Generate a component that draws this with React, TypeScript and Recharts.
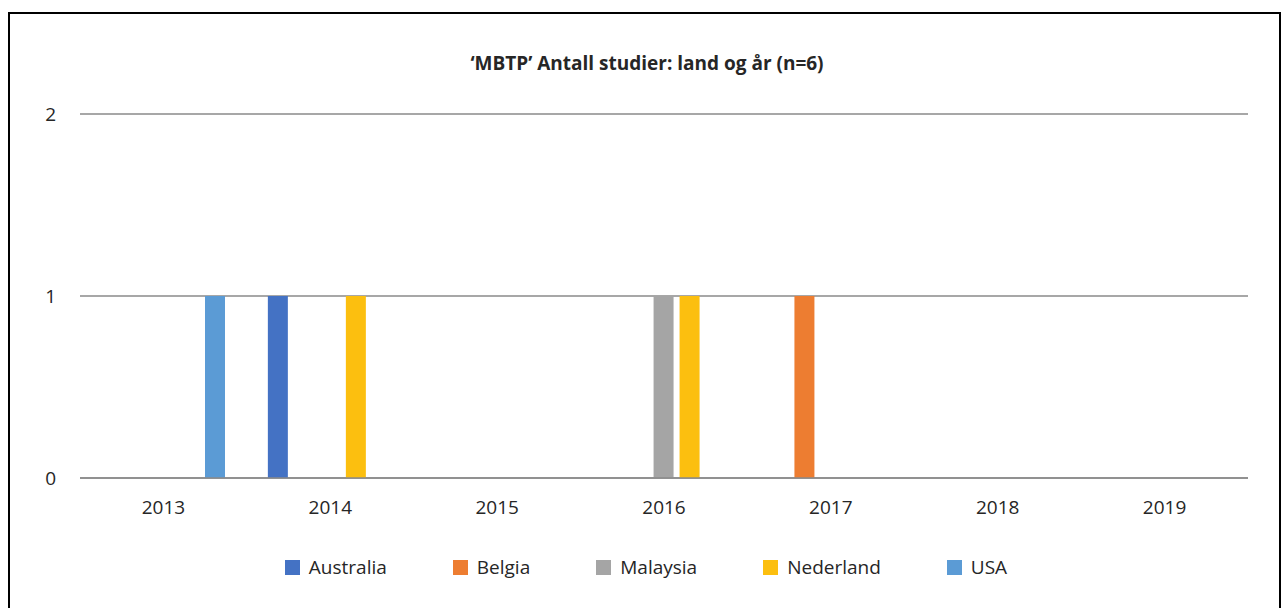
import { BarChart, Bar, XAxis, YAxis, CartesianGrid } from "recharts";

const years = ["2013", "2014", "2015", "2016", "2017", "2018", "2019"];
const australia = [0, 1, 0, 0, 0, 0, 0];
const belgia = [0, 0, 0, 0, 1, 0, 0];
const malaysia = [0, 0, 0, 1, 0, 0, 0];
const nederland = [0, 1, 0, 1, 0, 0, 0];
const usa = [1, 0, 0, 0, 0, 0, 0];
const yTicks = [0, 1, 2];

const series = [
  { key: "australia", name: "Australia", values: australia, color: "#4472C4" },
  { key: "belgia", name: "Belgia", values: belgia, color: "#ED7D31" },
  { key: "malaysia", name: "Malaysia", values: malaysia, color: "#A5A5A5" },
  { key: "nederland", name: "Nederland", values: nederland, color: "#FCBF0F" },
  { key: "usa", name: "USA", values: usa, color: "#5B9BD5" },
];

const data = years.map((year, i) => {
  const row: Record<string, string | number> = { year };
  series.forEach((s) => {
    row[s.key] = s.values[i];
  });
  return row;
});

const font = "'Open Sans', sans-serif";
const textColor = "#262626";

export default function App() {
  return (
    <div
      style={{
        position: "absolute",
        left: 8,
        top: 12,
        width: 1273,
        height: 596,
        boxSizing: "border-box",
        borderTop: "2px solid #000",
        borderLeft: "2px solid #000",
        borderRight: "2px solid #000",
        background: "#fff",
        fontFamily: font,
      }}
    >
      <div
        style={{
          position: "absolute",
          left: 0,
          top: 36,
          width: 1274,
          textAlign: "center",
          fontWeight: 700,
          fontSize: 19,
          color: textColor,
        }}
      >
        ‘MBTP’ Antall studier: land og år (n=6)
      </div>
      <BarChart
        width={1269}
        height={594}
        data={data}
        margin={{ top: 100, right: 31, left: 30, bottom: 100 }}
        barSize={20}
        barGap={6}
      >
        <CartesianGrid vertical={false} stroke="#8a8a8a" strokeWidth={1.3} />
        <XAxis
          dataKey="year"
          height={30}
          tickLine={false}
          tickSize={0}
          tickMargin={23}
          axisLine={{ stroke: "#8a8a8a", strokeWidth: 1.5 }}
          tick={{ fill: textColor, fontSize: 19, fontFamily: font }}
        />
        <YAxis
          width={40}
          domain={[0, 2]}
          ticks={yTicks}
          axisLine={false}
          tickLine={false}
          tickSize={0}
          tickMargin={24}
          tick={{ fill: textColor, fontSize: 19, fontFamily: font }}
        />
        {series.map((s) => (
          <Bar
            key={s.key}
            dataKey={s.key}
            name={s.name}
            fill={s.color}
            isAnimationActive={false}
          />
        ))}
      </BarChart>
      <div
        style={{
          position: "absolute",
          left: 0,
          top: 540,
          width: 1272,
          display: "flex",
          justifyContent: "center",
          alignItems: "center",
          gap: 66,
          fontSize: 19,
          color: textColor,
        }}
      >
        {series.map((s) => (
          <div key={s.key} style={{ display: "flex", alignItems: "center" }}>
            <span
              style={{
                display: "inline-block",
                width: 15,
                height: 15,
                background: s.color,
                marginRight: 9,
              }}
            />
            <span>{s.name}</span>
          </div>
        ))}
      </div>
    </div>
  );
}
